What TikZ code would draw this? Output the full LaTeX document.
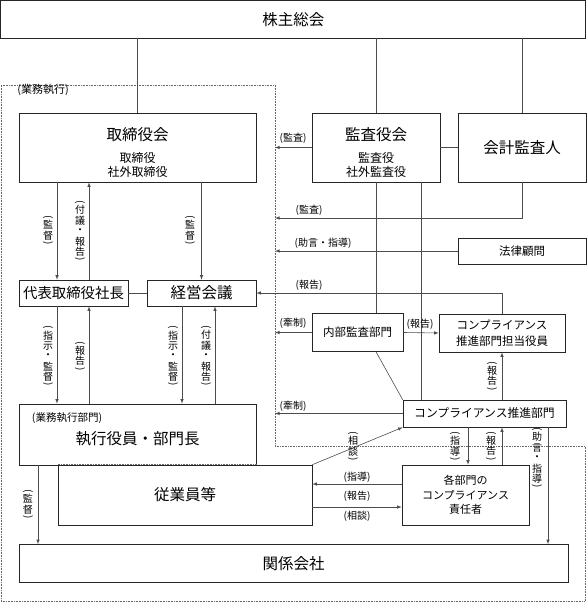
\documentclass[tikz,border=0pt]{standalone}
\usepackage{fontspec}
\setmainfont{Noto Sans CJK JP}
\usepackage{graphicx}
\usepackage{tikz}
\usetikzlibrary{calc}
\usetikzlibrary{shapes,arrows}

\newcommand{\fbig}{\fontsize{15.5}{18}\selectfont}
\newcommand{\fmid}{\fontsize{12}{14}\selectfont}
\newcommand{\fsml}{\fontsize{11.5}{15.5}\selectfont}
% vertical label with turned brackets
\newcommand{\vch}[1]{\hbox to 11pt{\hss\vbox to 10.4pt{\vss\hbox{#1}\vss}\hss}}
\newcommand{\vpar}[1]{\hbox to 11pt{\hss\vbox to 5pt{\vss\hbox{#1}\vss}\hss}}
\makeatletter
\newcommand{\vlab}[1]{\vbox{\offinterlineskip
  \vpar{\rotatebox{-90}{(}}%
  \@tfor\vl@c:=#1\do{\vch{\vl@c}}%
  \vpar{\rotatebox{-90}{)}}}}
\makeatother

\begin{document}
\begin{tikzpicture}[x=1pt,y=-1pt,>=latex,
    box/.style={draw=black!85,line width=0.6pt,inner sep=0pt,align=center},
    conn/.style={draw=black!70,line width=0.6pt},
    lab/.style={inner sep=0pt,font=\fontsize{10}{10}\selectfont}]
  \useasboundingbox (0,0) rectangle (587,602);
  % area of business execution
  \coordinate (G1) at (1,85);
  \coordinate (G2) at (275,85);
  \coordinate (G3) at (275,446);
  \coordinate (G4) at (585,446);
  \coordinate (G5) at (585,601);
  \coordinate (G6) at (1,601);
  \draw[black!60,densely dotted,line width=0.6pt] (G1)--(G2)--(G3)--(G4)--(G5)--(G6)--cycle;
  \node[lab,font=\fontsize{11}{11}\selectfont] (gyoumu) at (43,90) {(業務執行)};

  % boxes
  \node[box,minimum width=585pt,minimum height=37.5pt,font=\fbig] (soukai) at (293.25,19.25) {株主総会};
  \node[box,minimum width=237pt,minimum height=69pt,font=\fmid,text height=57pt,text depth=0pt] (torikai) at (137.5,147.5)
    {{\fbig 取締役会}\\[8pt]取締役\\社外取締役};
  \node[box,minimum width=128pt,minimum height=69pt,font=\fmid,text height=57pt,text depth=0pt] (kansakai) at (376,147.5)
    {{\fbig 監査役会}\\[8pt]監査役\\社外監査役};
  \node[box,minimum width=128pt,minimum height=69pt,font=\fbig] (kaikei) at (522,147.5) {会計監査人};
  \node[box,minimum width=128pt,minimum height=26pt,font=\fsml] (houritsu) at (522,251) {法律顧問};
  \node[box,minimum width=109pt,minimum height=26pt,font=\fontsize{14.4}{16}\selectfont] (shachou) at (73.5,293) {代表取締役社長};
  \node[box,minimum width=109pt,minimum height=26pt,font=\fbig] (keiei) at (201.5,293) {経営会議};
  \node[box,minimum width=91pt,minimum height=38pt,font=\fsml] (naibu) at (357.5,332.5) {内部監査部門};
  \node[box,minimum width=126pt,minimum height=38pt,font=\fsml] (tantou) at (502,333) {コンプライアンス\\推進部門担当役員};
  \node[box,minimum width=163pt,minimum height=27pt,font=\fontsize{11.8}{14}\selectfont] (suishin) at (484.5,413.5) {コンプライアンス推進部門};
  \node[box,minimum width=237pt,minimum height=61pt,font=\fbig,text height=20.8pt,text depth=0pt] (shikkou) at (137.5,434.5) {執行役員・部門長};
  \node[lab,font=\fontsize{10.5}{10.5}\selectfont] (shikkou-tag) at (67,418) {(業務執行部門)};
  \node[box,minimum width=254pt,minimum height=60pt,font=\fbig] (juugyou) at (185,495) {従業員等};
  \node[box,minimum width=127pt,minimum height=60pt,font=\fontsize{11}{14.5}\selectfont] (kakubu) at (465.5,495)
    {各部門の\\コンプライアンス\\責任者};
  \node[box,minimum width=549pt,minimum height=38pt,font=\fbig] (kankei) at (293.5,563.5) {関係会社};
  % shared edge of the two boxes
  \draw[white,line width=1.2pt] (juugyou.north west) -- (juugyou.north west -| shikkou.south east);
  \draw[black!60,densely dotted,line width=0.6pt] (juugyou.north west) -- (juugyou.north west -| shikkou.south east);

  % line positions
  \coordinate (xa) at (57,0);
  \coordinate (xb) at (89,0);
  \coordinate (xc) at (182,0);
  \coordinate (xd) at (215,0);
  \coordinate (xe) at (38,0);
  \coordinate (xk) at (421,0);
  \coordinate (xs) at (468,0);
  \coordinate (xj) at (548,0);
  \coordinate (ya) at (0,484);
  \coordinate (yb) at (0,507);
  \coordinate (kansa-end) at (275,218);

  % connectors
  \draw[conn] (torikai.north) -- (torikai.north |- soukai.south);
  \draw[conn] (kansakai.north) -- (kansakai.north |- soukai.south);
  \draw[conn] (kaikei.north) -- (kaikei.north |- soukai.south);
  \draw[conn] (kansakai.east) -- (kaikei.west);
  \draw[conn,->] (kansakai.west) -- (kansakai.west -| G2);
  \draw[conn,->] (kaikei.south) |- (kansa-end);
  \draw[conn,->] (houritsu.west) -- (houritsu.west -| G2);
  \draw[conn,->] (tantou.north) |- (keiei.east);
  \draw[conn] (kansakai.south) -- (kansakai.south |- naibu.north);
  \draw[conn] (kansakai.south -| xk) -- (suishin.north -| xk);
  \draw[conn,->] (naibu.west) -- (naibu.west -| G2);
  \draw[conn,->] (naibu.east) -- (tantou.west);
  \draw[conn] (naibu.south -| kansakai.south) -- (suishin.north west);
  \draw[conn,->] (suishin.north -| tantou.south) -- (tantou.south);
  \draw[conn,->] (suishin.west) -- (suishin.west -| G2);
  \draw[conn,->] (juugyou.north east) -- (suishin.south west);
  \draw[conn,->] (suishin.south -| xs) -- (kakubu.north -| xs);
  \draw[conn,->] (kakubu.north -| tantou.south) -- (suishin.south -| tantou.south);
  \draw[conn,->] (suishin.south -| xj) -- (kankei.north -| xj);
  \draw[conn,->] (kakubu.west |- ya) -- (juugyou.east |- ya);
  \draw[conn,->] (juugyou.east |- yb) -- (kakubu.west |- yb);
  \draw[conn,->] (torikai.south -| xa) -- (shachou.north -| xa);
  \draw[conn,->] (shachou.north -| xb) -- (torikai.south -| xb);
  \draw[conn,->] (torikai.south -| keiei.north) -- (keiei.north);
  \draw[conn] (shachou.east) -- (keiei.west);
  \draw[conn,->] (shachou.south -| xa) -- (shikkou.north -| xa);
  \draw[conn,->] (shikkou.north -| xb) -- (shachou.south -| xb);
  \draw[conn,->] (keiei.south -| xc) -- (shikkou.north -| xc);
  \draw[conn,->] (shikkou.north -| xd) -- (keiei.south -| xd);
  \draw[conn,->] (shikkou.south -| xe) -- (kankei.north -| xe);

  % labels
  \node[lab] (l-kansa1) at (293,138) {(監査)};
  \node[lab] (l-kansa2) at (309,210) {(監査)};
  \node[lab] (l-jogen1) at (323,243) {(助言・指導)};
  \node[lab] (l-houkoku1) at (309,285) {(報告)};
  \node[lab] (l-kensei1) at (293,323) {(牽制)};
  \node[lab] (l-houkoku2) at (420,324) {(報告)};
  \node[lab] (l-kensei2) at (293,406) {(牽制)};
  \node[lab] (l-shidou1) at (357,477) {(指導)};
  \node[lab] (l-houkoku3) at (357,496) {(報告)};
  \node[lab] (l-soudan1) at (357,516) {(相談)};
  \node[lab] (v-kantoku1) at (48,230) {\vlab{監督}};
  \node[lab] (v-fugi1) at (80,231) {\vlab{付議・報告}};
  \node[lab] (v-kantoku2) at (190,230) {\vlab{監督}};
  \node[lab] (v-shiji1) at (48,356) {\vlab{指示・監督}};
  \node[lab] (v-houkoku1) at (80,356) {\vlab{報告}};
  \node[lab] (v-shiji2) at (173,356) {\vlab{指示・監督}};
  \node[lab] (v-fugi2) at (206,356) {\vlab{付議・報告}};
  \node[lab] (v-houkoku2) at (492,376) {\vlab{報告}};
  \node[lab] (v-soudan) at (353,446) {\vlab{相談}};
  \node[lab] (v-shidou) at (455,446) {\vlab{指導}};
  \node[lab] (v-houkoku3) at (491,446) {\vlab{報告}};
  \node[lab] (v-jogen) at (537,458) {\vlab{助言・指導}};
  \node[lab] (v-kantoku3) at (28,504) {\vlab{監督}};
\end{tikzpicture}
\end{document}
